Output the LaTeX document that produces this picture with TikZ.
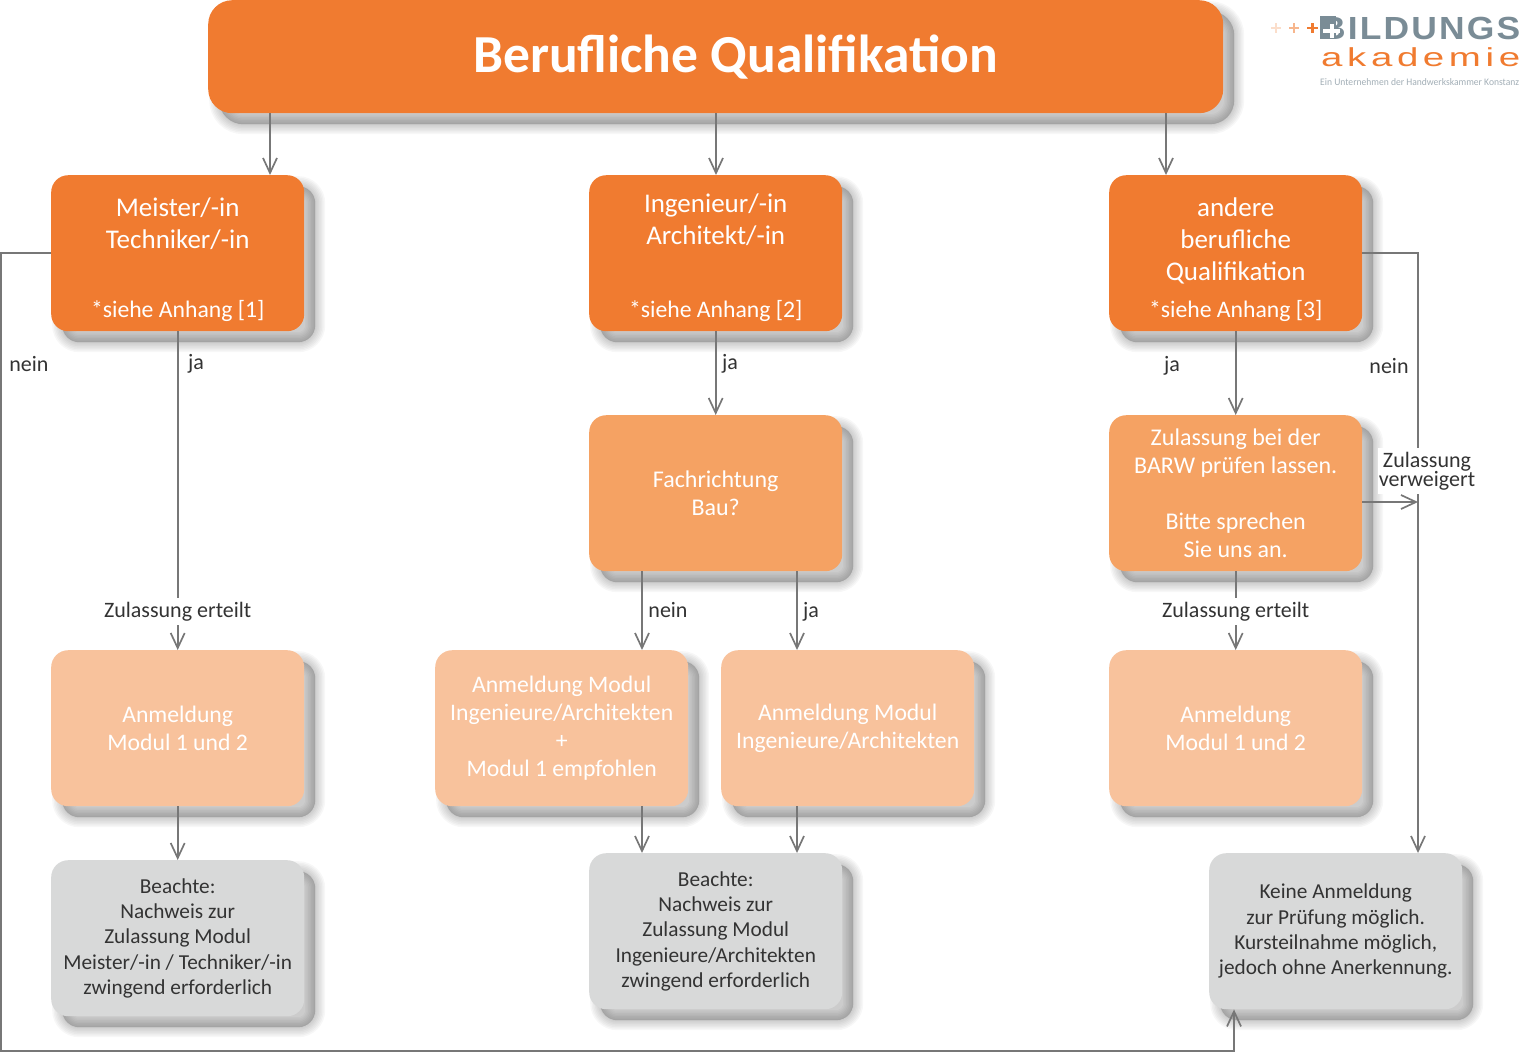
\documentclass[tikz,border=0pt]{standalone}
\usepackage{graphicx}
\usepackage{fontspec}
\setmainfont{Carlito}
\newfontfamily\logoa[LetterSpace=6]{Liberation Sans}
\newfontfamily\logob[LetterSpace=12]{Liberation Sans}
\usetikzlibrary{arrows.meta}
\definecolor{oA}{HTML}{F07B30}
\definecolor{oB}{HTML}{F5A263}
\definecolor{oC}{HTML}{F8C29C}
\definecolor{gB}{HTML}{D8D9D9}
\definecolor{lineC}{HTML}{777777}
\definecolor{txt}{HTML}{333333}
\definecolor{logoG}{HTML}{7A8C96}
\tikzset{
 blurlayer/.style={preaction={draw=black,fill=black,line width=#1,draw opacity=.03,fill opacity=.03,transform canvas={xshift=11pt,yshift=-11pt}}},
 softshadow/.style={blurlayer=20pt,blurlayer=17pt,blurlayer=14pt,blurlayer=11pt,blurlayer=8pt,blurlayer=5pt,blurlayer=2pt},
 box/.style={softshadow,rounded corners=17pt,minimum width=253pt,minimum height=156pt,inner sep=0pt,align=center,anchor=north west},
 boxA/.style={box,fill=oA,text=white,font=\fontsize{27}{32}\selectfont},
 boxB/.style={box,fill=oB,text=white,font=\fontsize{24}{28}\selectfont},
 boxC/.style={box,fill=oC,text=white,font=\fontsize{23.7}{28}\selectfont},
 boxG/.style={box,fill=gB,text=txt,font=\fontsize{21.3}{25.3}\selectfont},
 conn/.style={draw=lineC,line width=1.7pt,-{Straight Barb[length=15pt,width=14pt,line width=1.7pt]}},
 lab/.style={text=txt,font=\fontsize{22}{19}\selectfont,inner sep=1pt,align=center},
 labw/.style={lab,fill=white,inner xsep=3pt,inner ysep=4pt},
}
\newcommand{\sieheA}[1]{{\fontsize{23.7}{28}\selectfont *siehe Anhang [#1]}}
\begin{document}
\begin{tikzpicture}[x=1pt,y=-1pt]
\useasboundingbox (0,0) rectangle (1520,1053);
% boxes
\node[softshadow,fill=oA,rounded corners=24pt,minimum width=1015pt,minimum height=113pt,inner sep=0pt,anchor=north west,text=white,font=\fontsize{53.5}{58}\selectfont\bfseries] (title) at (208,0) {\hspace{40pt}\raisebox{-6pt}{Berufliche Qualifikation}};
\node[boxA] (meister) at (51,175) {\rule{0pt}{32pt}Meister/-in\\Techniker/-in\\[37pt]\sieheA{1}};
\node[boxA] (ing) at (589,175) {\rule{0pt}{28pt}Ingenieur/-in\\Architekt/-in\\[41pt]\sieheA{2}};
\node[boxA] (andere) at (1109,175) {\rule{0pt}{31pt}andere\\berufliche\\Qualifikation\\[5pt]\sieheA{3}};
\node[boxB] (fach) at (589,415) {Fachrichtung\\Bau?};
\node[boxB] (barw) at (1109,415) {Zulassung bei der\\BARW prüfen lassen.\\[28pt]Bitte sprechen\\Sie uns an.};
\node[boxC] (anmA) at (51,650) {Anmeldung\\Modul 1 und 2};
\node[boxC] (anmB) at (435,650) {Anmeldung Modul\\Ingenieure/Architekten\\+\\Modul 1 empfohlen};
\node[boxC] (anmC) at (721,650) {Anmeldung Modul\\Ingenieure/Architekten};
\node[boxC] (anmD) at (1109,650) {Anmeldung\\Modul 1 und 2};
\node[boxG] (beaA) at (51,860) {Beachte:\\Nachweis zur\\Zulassung Modul\\Meister/-in / Techniker/-in\\zwingend erforderlich};
\node[boxG] (beaB) at (589,853) {Beachte:\\Nachweis zur\\Zulassung Modul\\Ingenieure/Architekten\\zwingend erforderlich};
\node[boxG] (kein) at (1209,853) {Keine Anmeldung\\zur Prüfung möglich.\\Kursteilnahme möglich,\\jedoch ohne Anerkennung.};
% connector columns
\coordinate (xA) at (270,0);
\coordinate (xB) at (716,0);
\coordinate (xC) at (1166,0);
\coordinate (xD) at (642,0);
\coordinate (xE) at (797,0);
\coordinate (xF) at (1236,0);
\coordinate (xG) at (1418,0);
\coordinate (xH) at (1234,0);
\coordinate (xL) at (1,0);
\coordinate (yN) at (0,253);
\coordinate (yB) at (0,1051);
\coordinate (yV) at (0,502);
% connectors
\draw[conn] (title.south -| xA) -- (meister.north -| xA);
\draw[conn] (title.south -| xB) -- (ing.north -| xB);
\draw[conn] (title.south -| xC) -- (andere.north -| xC);
\draw[conn] (meister.south) -- node[labw,pos=.88] {Zulassung erteilt} (anmA.north);
\draw[conn] (anmA.south) -- (beaA.north);
\draw[conn] (ing.south) -- (fach.north);
\draw[conn] (fach.south -| xD) -- (anmB.north -| xD);
\draw[conn] (fach.south -| xE) -- (anmC.north -| xE);
\draw[conn] (anmB.south -| xD) -- (beaB.north -| xD);
\draw[conn] (anmC.south -| xE) -- (beaB.north -| xE);
\draw[conn] (andere.south) -- (barw.north);
\draw[conn] (barw.south) -- node[labw,pos=.51] {Zulassung erteilt} (anmD.north);
\draw[conn] (barw.east |- yV) -- (xG |- yV);
\draw[conn] (andere.east |- yN) -- (xG |- yN) -- node[labw,pos=.3635,xshift=9pt,inner xsep=1pt] (verw) {Zulassung\\verweigert} (kein.north -| xG);
\draw[conn] (meister.west |- yN) -- (xL |- yN) -- (xL |- yB) -- (xH |- yB) -- (kein.south -| xH);
% edge labels
\node[lab] (lA) at (196,364) {ja};
\node[lab] (lB) at (29,364) {nein};
\node[lab] (lC) at (730,364) {ja};
\node[lab] (lD) at (668,610) {nein};
\node[lab] (lE) at (811,612) {ja};
\node[lab] (lF) at (1172,366) {ja};
\node[lab] (lG) at (1389,366) {nein};
% logo
\draw[oA!25,line width=2.6pt] (1271,28) -- (1281,28) (1276,23) -- (1276,33);
\draw[oA!55,line width=2.6pt] (1289,28) -- (1299,28) (1294,23) -- (1294,33);
\draw[oA,line width=2.8pt] (1307,28) -- (1318,28) (1312.5,23) -- (1312.5,33);
\node[text=logoG,font=\fontsize{32}{32}\logoa\bfseries,inner sep=0pt,anchor=base west] (lgA) at (1320,39) {\resizebox{200pt}{\height}{BILDUNGS}};
\fill[logoG] (1320,16) rectangle (1336,39);
\draw[white,line width=4pt] (1323,31) -- (1340,31) (1331.5,24) -- (1331.5,38);
\node[text=oA,font=\fontsize{26}{28}\logob,inner sep=0pt,anchor=base west] (lgB) at (1321,66) {\resizebox{199pt}{\height}{akademie}};
\node[text=logoG!70,font=\fontsize{10}{12}\selectfont,inner sep=0pt,anchor=base west] (lgC) at (1320,85) {\resizebox{199pt}{\height}{Ein Unternehmen der Handwerkskammer Konstanz}};
\end{tikzpicture}
\end{document}
